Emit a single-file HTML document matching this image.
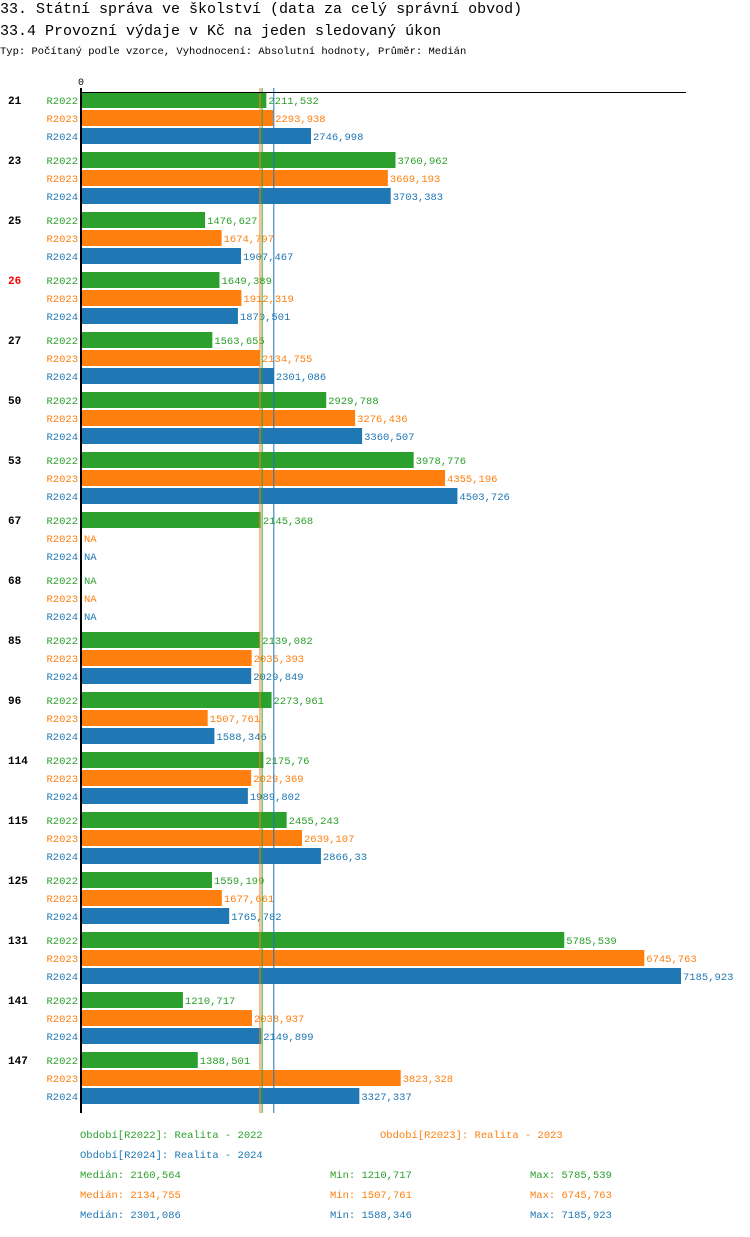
<!DOCTYPE html>
<html><head><meta charset="utf-8"><style>
body{margin:0;background:#fff;width:750px;height:1232px;overflow:hidden;font-family:"Liberation Mono","DejaVu Sans Mono",monospace}
svg text{font-family:"Liberation Mono","DejaVu Sans Mono",monospace}
</style></head><body>
<svg id="c" width="750" height="1232">
<text x="0" y="13" font-size="15">33. Státní správa ve školství (data za celý správní obvod)</text>
<text x="0" y="35" font-size="15">33.4 Provozní výdaje v Kč na jeden sledovaný úkon</text>
<text x="0" y="54" font-size="10.5">Typ: Počítaný podle vzorce, Vyhodnocení: Absolutní hodnoty, Průměr: Medián</text>
</svg>
<script>
const groups=["21","23","25","26","27","50","53","67","68","85","96","114","115","125","131","141","147"];
const series=["R2022","R2023","R2024"];
const v2022=[2211.532,3760.962,1476.627,1649.389,1563.655,2929.788,3978.776,2145.368,null,2139.082,2273.961,2175.76,2455.243,1559.199,5785.539,1210.717,1388.501];
const v2023=[2293.938,3669.193,1674.797,1912.319,2134.755,3276.436,4355.196,null,null,2035.393,1507.761,2029.369,2639.107,1677.661,6745.763,2038.937,3823.328];
const v2024=[2746.998,3703.383,1907.467,1870.501,2301.086,3360.507,4503.726,null,null,2029.849,1588.346,1989.802,2866.33,1765.782,7185.923,2149.899,3327.337];
const medians=[2160.564,2134.755,2301.086];
const mins=[1210.717,1507.761,1588.346];
const maxs=[5785.539,6745.763,7185.923];
const colors=["#2ca02c","#ff7f0e","#1f77b4"];
const NS="http://www.w3.org/2000/svg";
const svg=document.getElementById("c");
const x0=82, scale=599/7185.923;
const x=v=>x0+v*scale;
const rowY=(g,s)=>100+g*60+s*18;
const fmt=v=>String(v).replace(".",",");
function mk(tag,attrs,txt){const e=document.createElementNS(NS,tag);for(const k in attrs)e.setAttribute(k,attrs[k]);if(txt!=null)e.textContent=txt;svg.appendChild(e);return e;}
const vals=[v2022,v2023,v2024];
let t=mk("text",{x:78,y:85,"font-size":10},"0");


groups.forEach((g,gi)=>{
  let gl=mk("text",{x:8,y:rowY(gi,0)+4,"font-size":11,"font-weight":"bold",fill:g==="26"?"#f00":"#000"},g);
  
  
  series.forEach((s,si)=>{
    const y=rowY(gi,si), v=vals[si][gi];
    let sl=mk("text",{x:78,y:y+4,"font-size":10.5,fill:colors[si],"text-anchor":"end"},s);
    
    
    if(v!=null){
      let b=mk("rect",{x:x0,y:y-8,width:x(v)-x0,height:16,fill:colors[si]});
      
      
    }
    let vl=mk("text",{x:(v!=null?x(v):x0)+2,y:y+4,"font-size":10.5,fill:colors[si]},v!=null?fmt(v):"NA");
    
    
  });
});
medians.forEach((m,i)=>{
  let l=mk("line",{x1:x(m),x2:x(m),y1:88,y2:1113,stroke:colors[i],"stroke-width":1});
  
  
});
let ax=mk("line",{x1:81,x2:81,y1:88,y2:1113,stroke:"#000","stroke-width":2});


let tx=mk("line",{x1:80,x2:686,y1:92.5,y2:92.5,stroke:"#000","stroke-width":1});


const legendTexts=["Období[R2022]: Realita - 2022","Období[R2023]: Realita - 2023","Období[R2024]: Realita - 2024"];
const legPos=[[80,1138],[380,1138],[80,1158]];
legendTexts.forEach((s,i)=>{
  let e=mk("text",{x:legPos[i][0],y:legPos[i][1],"font-size":10.5,fill:colors[i]},s);
  
  
});
for(let i=0;i<3;i++){
  const y=1178+i*20;
  let a=mk("text",{x:80,y:y,"font-size":10.5,fill:colors[i]},"Medián: "+fmt(medians[i]));
  
  
  let b=mk("text",{x:330,y:y,"font-size":10.5,fill:colors[i]},"Min: "+fmt(mins[i]));
  
  
  let c=mk("text",{x:530,y:y,"font-size":10.5,fill:colors[i]},"Max: "+fmt(maxs[i]));
  
  
}
</script>
</body></html>
